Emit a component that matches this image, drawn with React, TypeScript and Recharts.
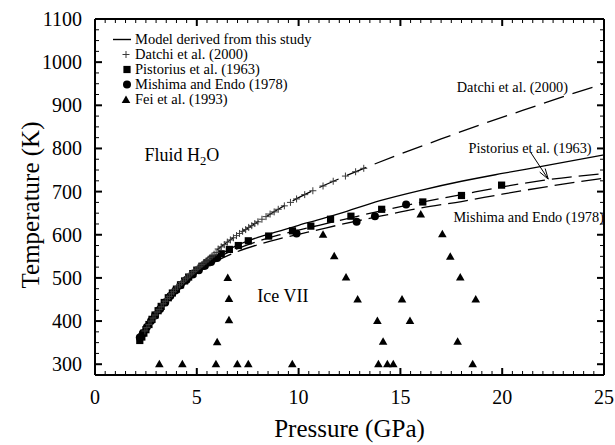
import React from 'react';
import { ComposedChart, Line, Scatter, XAxis, YAxis, Legend, ReferenceDot, ReferenceLine, Label } from 'recharts';

const FONT = '"Liberation Serif", "Times New Roman", Times, serif';

// ---- tick labels ----
const xMajorTicks = [0, 5, 10, 15, 20, 25];
const yMajorTicks = [300, 400, 500, 600, 700, 800, 900, 1000, 1100];
const xMinorStep = 0.5;
const yMinorStep = 25;
const xDomain = [0, 25];
const yDomain = [275, 1100];

// ---- curves (pressure GPa, temperature K) ----
const modelP = [2.2, 3, 4, 5, 6, 7, 8, 9, 10, 11, 12, 14, 16, 18, 20, 22, 25];
const modelT = [355, 415, 472, 518, 550, 576, 594, 608, 622, 635, 649, 679, 703, 724, 742, 759, 785];

const datchiLineP = [2.2, 3, 4, 5, 6, 7, 8, 9, 10, 11, 12, 13, 15, 17, 19, 21, 23, 25];
const datchiLineT = [355, 418, 477, 524, 565, 600, 630, 659, 686, 709, 730, 750, 787, 822, 856, 888, 920, 950];

const pistoriusLineP = [2.2, 3, 4, 5, 6, 7, 8, 9, 10, 11, 12, 14, 16, 18, 20, 22, 25];
const pistoriusLineT = [355, 413, 469, 514, 546, 568, 585, 599, 611, 622, 633, 655, 675, 693, 711, 726, 742];

const mishimaLineP = [2.2, 3, 4, 5, 6, 7, 8, 9, 10, 11, 12, 14, 16, 18, 20, 22, 25];
const mishimaLineT = [355, 412, 466, 510, 540, 561, 577, 590, 601, 612, 623, 643, 662, 677, 694, 710, 731];

// ---- measured points ----
const datchiP = [2.45, 2.55, 2.65, 2.75, 2.85, 2.95, 3.05, 3.15, 3.25, 3.35, 3.45, 3.55, 3.65, 3.75, 3.85, 3.95, 4.05, 4.15, 4.25, 4.35, 4.45, 4.55, 4.65, 4.75, 4.85, 4.95, 5.05, 5.15, 5.25, 5.35, 5.45, 5.55, 5.65, 5.75, 5.85, 5.95, 6.05, 6.2, 6.35, 6.5, 6.65, 6.8, 6.95, 7.1, 7.25, 7.4, 7.55, 7.7, 7.85, 8.0, 8.2, 8.4, 8.6, 8.8, 9.0, 9.3, 9.6, 9.9, 10.3, 10.7, 11.2, 11.7, 12.3, 12.8, 13.2];
const datchiT = [377, 385, 392, 400, 407, 414, 421, 427, 433, 440, 446, 452, 457, 463, 468, 474, 479, 484, 489, 493, 498, 502, 507, 511, 515, 519, 523, 527, 531, 535, 539, 543, 547, 551, 555, 559, 567, 572, 577, 583, 588, 593, 598, 603, 608, 612, 617, 621, 626, 630, 636, 642, 648, 653, 659, 667, 675, 683, 693, 702, 713, 724, 736, 746, 754];

const pistoriusP = [2.2, 2.3, 2.4, 2.5, 2.65, 2.8, 2.95, 3.1, 3.25, 3.4, 3.6, 3.8, 4.0, 4.2, 4.4, 4.6, 4.8, 5.0, 5.25, 5.5, 5.8, 6.2, 6.6, 7.04, 7.53, 8.53, 9.7, 10.6, 11.57, 12.57, 14.08, 16.1, 18.0, 19.97];
const pistoriusT = [355, 363, 372, 380, 392, 404, 414, 424, 434, 443, 454, 465, 474, 484, 493, 502, 510, 518, 527, 535, 545, 556, 566, 575, 586, 597, 609, 620, 636, 643, 659, 676, 691, 715];

const mishimaP = [2.2, 2.35, 2.55, 2.75, 2.95, 3.2, 3.45, 3.7, 3.95, 4.2, 4.5, 4.8, 5.1, 5.4, 5.7, 6.0, 9.9, 12.85, 13.75, 15.28];
const mishimaT = [362, 372, 386, 400, 413, 428, 443, 458, 471, 483, 496, 508, 518, 528, 537, 546, 603, 630, 643, 670];

const feiP = [3.16, 4.29, 5.94, 6.99, 7.53, 9.69, 13.92, 14.36, 14.65, 18.55, 6.0, 14.15, 17.81, 6.58, 13.87, 15.47, 6.58, 12.9, 15.08, 18.7, 6.52, 12.33, 17.94, 11.75, 17.45, 11.2, 17.06, 16.0];
const feiT = [300, 300, 300, 300, 300, 300, 300, 300, 300, 300, 351, 352, 352, 402, 400, 400, 451, 450, 450, 450, 500, 501, 501, 550, 549, 600, 601, 647];

// ---- legend & annotations ----
const legendItems = [
  { name: 'Model derived from this study', kind: 'line' },
  { name: 'Datchi et al. (2000)', kind: 'cross' },
  { name: 'Pistorius et al. (1963)', kind: 'square' },
  { name: 'Mishima and Endo (1978)', kind: 'circle' },
  { name: 'Fei et al. (1993)', kind: 'triangle' },
];

const regionLabels = [
  { text: 'Fluid H', sub: '2', tail: 'O', p: 4.27, t: 785, size: 18 },
  { text: 'Ice VII', sub: '', tail: '', p: 9.23, t: 458, size: 18 },
  { text: 'Datchi et al. (2000)', sub: '', tail: '', p: 20.5, t: 943, size: 14.3 },
  { text: 'Pistorius et al. (1963)', sub: '', tail: '', p: 21.37, t: 802, size: 14.3 },
  { text: 'Mishima and Endo (1978)', sub: '', tail: '', p: 21.3, t: 642, size: 14.3 },
];
const arrowFrom = { p: 21.41, t: 790 };
const arrowTo = { p: 22.26, t: 729 };

const zip = (ps: number[], ts: number[]) => ps.map((p, i) => ({ p, t: ts[i] }));

const makeTicks = (lo: number, hi: number, step: number) => {
  const out: number[] = [];
  for (let v = lo; v <= hi + 1e-9; v += step) out.push(Math.round(v * 1000) / 1000);
  return out;
};
const xTicks = makeTicks(xDomain[0], xDomain[1], xMinorStep);
const yTicks = makeTicks(300, yDomain[1], yMinorStep);

const XTick = (props: any) => {
  const { x, y, payload, side } = props;
  const v = payload.value;
  const major = xMajorTicks.includes(v);
  const len = major ? 7 : 4;
  const dir = side === 'bottom' ? -1 : 1;
  return (
    <g>
      <line x1={x} x2={x} y1={y} y2={y + dir * len} stroke="#000" strokeWidth={major ? 2 : 1} />
      {side === 'bottom' && major && (
        <text x={x} y={y + 29} textAnchor="middle" fontSize={20} fontFamily={FONT} fill="#000">{v}</text>
      )}
    </g>
  );
};

const YTick = (props: any) => {
  const { x, y, payload, side } = props;
  const v = payload.value;
  const major = yMajorTicks.includes(v);
  const len = major ? 7 : 4;
  const dir = side === 'left' ? 1 : -1;
  return (
    <g>
      <line x1={x} x2={x + dir * len} y1={y} y2={y} stroke="#000" strokeWidth={major ? 2 : 1} />
      {side === 'left' && major && (
        <text x={x - 13} y={y + 7} textAnchor="end" fontSize={20} fontFamily={FONT} fill="#000">{v}</text>
      )}
    </g>
  );
};

const CrossShape = (props: any) => {
  const { cx, cy } = props;
  const s = 3.5;
  return (
    <g stroke="#3a3a3a" strokeWidth={1}>
      <line x1={cx - s} x2={cx + s} y1={cy} y2={cy} />
      <line x1={cx} x2={cx} y1={cy - s} y2={cy + s} />
    </g>
  );
};
const SquareShape = (props: any) => {
  const { cx, cy } = props;
  return <rect x={cx - 3.6} y={cy - 3.6} width={7.2} height={7.2} fill="#000" />;
};
const CircleShape = (props: any) => {
  const { cx, cy } = props;
  return <circle cx={cx} cy={cy} r={4} fill="#000" />;
};
const TriangleShape = (props: any) => {
  const { cx, cy } = props;
  return <polygon points={`${cx},${cy - 4.5} ${cx + 4.3},${cy + 3} ${cx - 4.3},${cy + 3}`} fill="#000" />;
};

const LegendIcon = ({ kind }: { kind: string }) => {
  const cx = 16, cy = 7.5;
  return (
    <svg width={23} height={15} style={{ display: 'block', flex: 'none' }}>
      {kind === 'line' && <line x1={3} x2={21} y1={cy} y2={cy} stroke="#000" strokeWidth={1.4} />}
      {kind === 'cross' && <CrossShape cx={cx} cy={cy} />}
      {kind === 'square' && <SquareShape cx={cx + 1} cy={cy} />}
      {kind === 'circle' && <CircleShape cx={cx + 1} cy={cy} />}
      {kind === 'triangle' && <TriangleShape cx={cx} cy={cy + 0.5} />}
    </svg>
  );
};

const renderLegend = () => (
  <div style={{ fontFamily: FONT, fontSize: 14.5, color: '#000' }}>
    {legendItems.map((it) => (
      <div key={it.name} style={{ display: 'flex', alignItems: 'center', height: 15, lineHeight: '15px', whiteSpace: 'nowrap' }}>
        <LegendIcon kind={it.kind} />
        <span style={{ marginLeft: 2 }}>{it.name}</span>
      </div>
    ))}
  </div>
);

const TextShape = (lbl: any) => (props: any) => {
  const { cx, cy } = props;
  return (
    <text x={cx} y={cy} dy="0.35em" textAnchor="middle" fontSize={lbl.size} fontFamily={FONT} fill="#000">
      {lbl.text}
      {lbl.sub && <tspan fontSize={lbl.size * 0.7} dy="0.3em">{lbl.sub}</tspan>}
      {lbl.tail && <tspan dy={-lbl.size * 0.21}>{lbl.tail}</tspan>}
    </text>
  );
};

const ArrowShape = (props: any) => {
  const { x1, y1, x2, y2 } = props;
  const ang = Math.atan2(y2 - y1, x2 - x1);
  const L = 11;
  const a1 = ang + Math.PI - 0.3;
  const a2 = ang + Math.PI + 0.3;
  return (
    <g stroke="#000" strokeWidth={1} fill="none">
      <line x1={x1} y1={y1} x2={x2} y2={y2} />
      <line x1={x2} y1={y2} x2={x2 + L * Math.cos(a1)} y2={y2 + L * Math.sin(a1)} />
      <line x1={x2} y1={y2} x2={x2 + L * Math.cos(a2)} y2={y2 + L * Math.sin(a2)} />
    </g>
  );
};

const YTitle = (props: any) => {
  const vb = props.viewBox || {};
  const cx = 30;
  const cy = vb.y + vb.height / 2 + 8;
  return (
    <text x={cx} y={cy} dy="0.35em" textAnchor="middle" fontSize={25} fontFamily={FONT} fill="#000" transform={`rotate(-90, ${cx}, ${cy})`}>
      Temperature (K)
    </text>
  );
};
const XTitle = (props: any) => {
  const vb = props.viewBox || {};
  return (
    <text x={vb.x + vb.width / 2} y={437} textAnchor="middle" fontSize={25} fontFamily={FONT} fill="#000">
      Pressure (GPa)
    </text>
  );
};

const axisLine = { stroke: '#000', strokeWidth: 2 };

export default function App() {
  return (
    <div style={{ position: 'absolute', left: 0, top: 0, width: 615, height: 445, background: '#fff' }}>
      <ComposedChart width={615} height={445} margin={{ top: 18, right: 10, bottom: 0, left: 0 }}>
        <XAxis xAxisId="b" type="number" dataKey="p" domain={xDomain} ticks={xTicks} interval={0} orientation="bottom" height={70}
          tickSize={0} tickMargin={0} tickLine={false} axisLine={axisLine} allowDataOverflow
          tick={(p: any) => <XTick {...p} side="bottom" />}>
          <Label content={XTitle} />
        </XAxis>
        <XAxis xAxisId="t" type="number" dataKey="p" domain={xDomain} ticks={xTicks} interval={0} orientation="top" height={1}
          tickSize={0} tickMargin={0} tickLine={false} axisLine={axisLine} allowDataOverflow
          tick={(p: any) => <XTick {...p} side="top" />} />
        <YAxis yAxisId="l" type="number" dataKey="t" domain={yDomain} ticks={yTicks} interval={0} orientation="left" width={95}
          tickSize={0} tickMargin={0} tickLine={false} axisLine={axisLine} allowDataOverflow
          tick={(p: any) => <YTick {...p} side="left" />}>
          <Label content={YTitle} />
        </YAxis>
        <YAxis yAxisId="r" type="number" dataKey="t" domain={yDomain} ticks={yTicks} interval={0} orientation="right" width={1}
          tickSize={0} tickMargin={0} tickLine={false} axisLine={axisLine} allowDataOverflow
          tick={(p: any) => <YTick {...p} side="right" />} />

        <Line xAxisId="b" yAxisId="l" data={zip(datchiLineP, datchiLineT)} dataKey="t" type="monotone" stroke="#000" strokeWidth={1.3}
          strokeDasharray="21 9" dot={false} activeDot={false} isAnimationActive={false} name="Datchi line" legendType="none" />
        <Line xAxisId="b" yAxisId="l" data={zip(pistoriusLineP, pistoriusLineT)} dataKey="t" type="monotone" stroke="#000" strokeWidth={1.3}
          strokeDasharray="20 7" dot={false} activeDot={false} isAnimationActive={false} name="Pistorius line" legendType="none" />
        <Line xAxisId="b" yAxisId="l" data={zip(mishimaLineP, mishimaLineT)} dataKey="t" type="monotone" stroke="#000" strokeWidth={1.3}
          strokeDasharray="20 7" dot={false} activeDot={false} isAnimationActive={false} name="Mishima line" legendType="none" />
        <Line xAxisId="b" yAxisId="l" data={zip(modelP, modelT)} dataKey="t" type="monotone" stroke="#000" strokeWidth={1.3}
          dot={false} activeDot={false} isAnimationActive={false} name="Model" legendType="none" />

        <Scatter xAxisId="b" yAxisId="l" data={zip(feiP, feiT)} dataKey="t" shape={TriangleShape} isAnimationActive={false} name="Fei" legendType="none" />
        <Scatter xAxisId="b" yAxisId="l" data={zip(pistoriusP, pistoriusT)} dataKey="t" shape={SquareShape} isAnimationActive={false} name="Pistorius" legendType="none" />
        <Scatter xAxisId="b" yAxisId="l" data={zip(mishimaP, mishimaT)} dataKey="t" shape={CircleShape} isAnimationActive={false} name="Mishima" legendType="none" />
        <Scatter xAxisId="b" yAxisId="l" data={zip(datchiP, datchiT)} dataKey="t" shape={CrossShape} isAnimationActive={false} name="Datchi" legendType="none" />

        {regionLabels.map((lbl) => (
          <ReferenceDot key={lbl.text} xAxisId="b" yAxisId="l" x={lbl.p} y={lbl.t} shape={TextShape(lbl)} />
        ))}
        <ReferenceLine xAxisId="b" yAxisId="l" segment={[{ x: arrowFrom.p, y: arrowFrom.t }, { x: arrowTo.p, y: arrowTo.t }]} shape={ArrowShape} />

        <Legend content={renderLegend} layout="vertical" align="center" verticalAlign="middle"
          wrapperStyle={{ top: 32, left: 110, width: 260, right: 'auto', bottom: 'auto' }} />
      </ComposedChart>
    </div>
  );
}
